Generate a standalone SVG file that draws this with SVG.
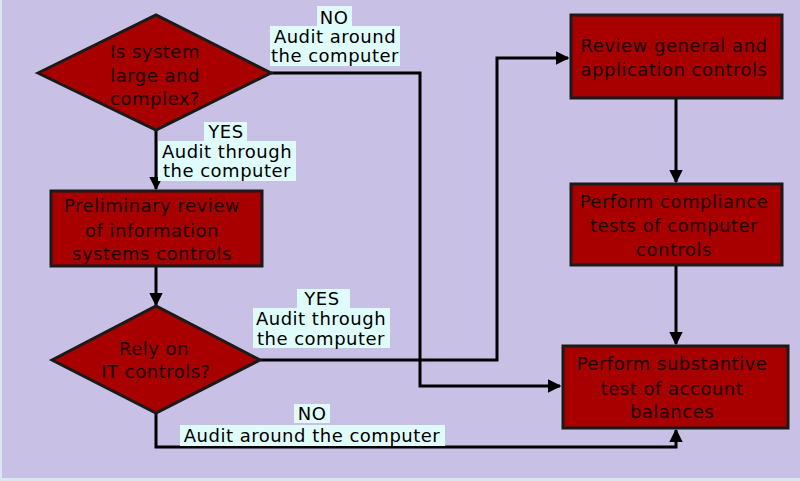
<svg xmlns="http://www.w3.org/2000/svg" width="800" height="481" viewBox="0 0 800 481">
<defs>
<style>
.bg{fill:#C9C0E5}
.node{fill:#A80000;stroke:#1a1a1a;stroke-width:3}
.nt{font-family:"DejaVu Sans",sans-serif;font-size:18px;letter-spacing:0.5px;fill:#1a0505;text-anchor:middle}
.lt{font-family:"DejaVu Sans",sans-serif;font-size:18px;letter-spacing:0.5px;fill:#000;text-anchor:middle}
.hl{fill:#DFFCFA}
.conn{fill:none;stroke:#000;stroke-width:3}
</style>
<marker id="ah" viewBox="0 0 10 10" refX="9" refY="5" markerWidth="4.5" markerHeight="4.5" orient="auto" markerUnits="strokeWidth">
<path d="M0,0 L10,5 L0,10 Z" fill="#000"/>
</marker>
</defs>
<rect class="bg" x="0" y="0" width="800" height="481"/>
<rect x="0" y="478" width="800" height="3" fill="#D8E8EE"/>
<rect x="0" y="0" width="2" height="481" fill="#D8E8EE"/>

<g id="connectors">
<path class="conn" d="M271,73 H420 V386 H560" marker-end="url(#ah)"/>
<path class="conn" d="M156,130 V189" marker-end="url(#ah)"/>
<path class="conn" d="M156,266 V305" marker-end="url(#ah)"/>
<path class="conn" d="M260,360 H497 V58 H568" marker-end="url(#ah)"/>
<path class="conn" d="M676,98 V182" marker-end="url(#ah)"/>
<path class="conn" d="M676,265 V344" marker-end="url(#ah)"/>
<path class="conn" d="M156,413 V447 H676 V430" marker-end="url(#ah)"/>
</g>

<g id="label-no1">
<rect class="hl" x="317" y="6" width="35" height="20"/>
<rect class="hl" x="270" y="26" width="130" height="40"/>
<text class="lt" x="334" y="24">NO</text>
<text class="lt" x="335" y="43">Audit around</text>
<text class="lt" x="335" y="62">the computer</text>
</g>

<g id="label-yes1">
<rect class="hl" x="204" y="122" width="43" height="19"/>
<rect class="hl" x="158" y="141" width="138" height="40"/>
<text class="lt" x="226" y="138">YES</text>
<text class="lt" x="227" y="158">Audit through</text>
<text class="lt" x="227" y="177">the computer</text>
</g>

<g id="label-yes2">
<rect class="hl" x="297" y="289" width="53" height="19"/>
<rect class="hl" x="253" y="308" width="137" height="40"/>
<text class="lt" x="322" y="305">YES</text>
<text class="lt" x="321" y="325">Audit through</text>
<text class="lt" x="321" y="345">the computer</text>
</g>

<g id="label-no2">
<rect class="hl" x="294" y="404" width="36" height="19"/>
<rect class="hl" x="180" y="425" width="265" height="21"/>
<text class="lt" x="312" y="420">NO</text>
<text class="lt" x="312" y="442">Audit around the computer</text>
</g>

<g id="n-large">
<polygon class="node" points="38,73 156,15 271,73 156,130"/>
<text class="nt" x="155" y="58">Is system</text>
<text class="nt" x="155" y="82">large and</text>
<text class="nt" x="155" y="105">complex?</text>
</g>

<g id="n-prelim">
<rect class="node" x="51" y="191" width="211" height="75"/>
<text class="nt" x="152" y="212">Preliminary review</text>
<text class="nt" x="152" y="237">of information</text>
<text class="nt" x="152" y="260">systems controls</text>
</g>

<g id="n-rely">
<polygon class="node" points="52,360 156,306 260,360 156,413"/>
<text class="nt" x="154" y="355">Rely on</text>
<text class="nt" x="156" y="378">IT controls?</text>
</g>

<g id="n-review">
<rect class="node" x="571" y="15" width="211" height="83"/>
<text class="nt" x="674" y="52">Review general and</text>
<text class="nt" x="674" y="76">application controls</text>
</g>

<g id="n-compliance">
<rect class="node" x="571" y="184" width="211" height="81"/>
<text class="nt" x="674" y="208">Perform compliance</text>
<text class="nt" x="674" y="232">tests of computer</text>
<text class="nt" x="674" y="256">controls</text>
</g>

<g id="n-substantive">
<rect class="node" x="563" y="346" width="225" height="82"/>
<text class="nt" x="672" y="370">Perform substantive</text>
<text class="nt" x="672" y="395">test of account</text>
<text class="nt" x="672" y="418">balances</text>
</g>
</svg>
